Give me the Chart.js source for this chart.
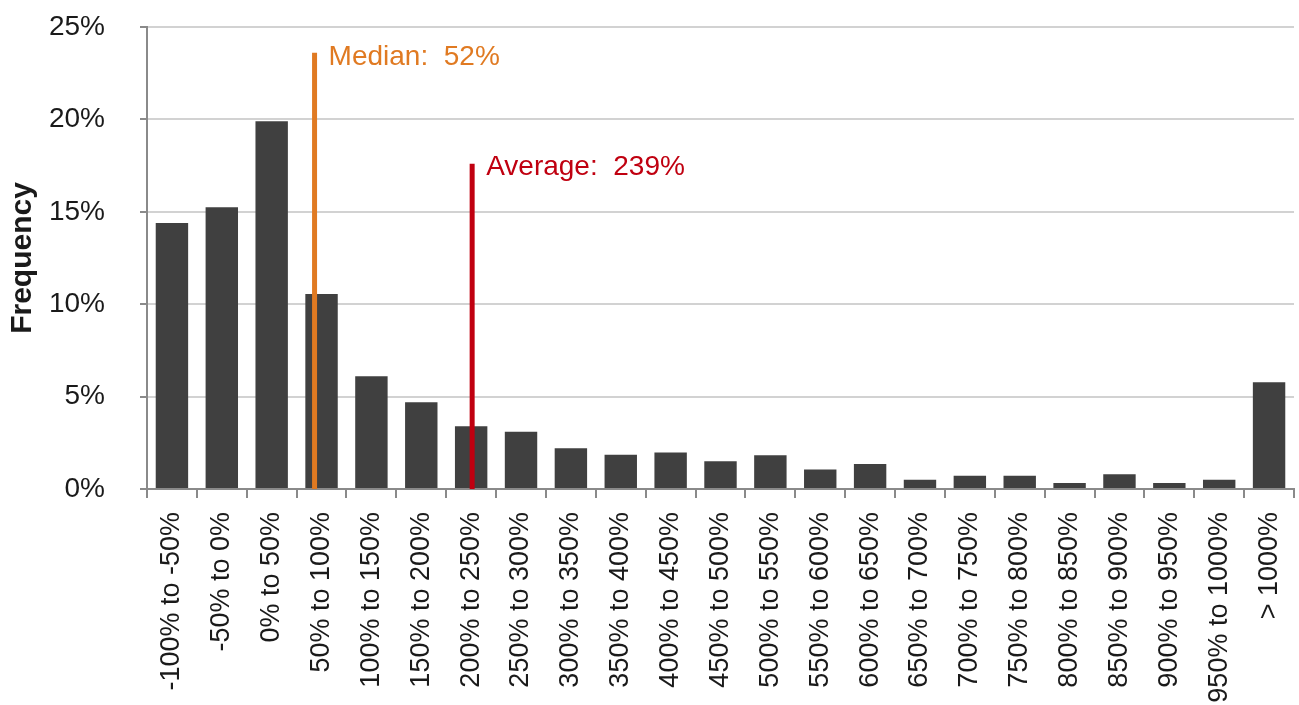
<!DOCTYPE html>
<html>
<head>
<meta charset="utf-8">
<script src="https://cdn.jsdelivr.net/npm/chart.js@4/dist/chart.umd.min.js"></script>
<style>
  html, body { margin: 0; padding: 0; background: #fff; }
  #wrap { width: 1299px; height: 705px; position: relative; }
</style>
</head>
<body>
<div id="wrap"><canvas id="histChart"></canvas></div>
<script>
// bins of return
const bins = ['-100% to -50%', '-50% to 0%', '0% to 50%', '50% to 100%', '100% to 150%',
    '150% to 200%', '200% to 250%', '250% to 300%', '300% to 350%', '350% to 400%',
    '400% to 450%', '450% to 500%', '500% to 550%', '550% to 600%', '600% to 650%',
    '650% to 700%', '700% to 750%', '750% to 800%', '800% to 850%', '850% to 900%',
    '900% to 950%', '950% to 1000%', '> 1000%'];
const frequency = [14.4, 15.25, 19.9, 10.55, 6.1, 4.7, 3.4, 3.1, 2.2, 1.85, 1.97, 1.5,
    1.83, 1.05, 1.35, 0.5, 0.72, 0.72, 0.33, 0.8, 0.33, 0.5, 5.78];
const yTicks = [0, 5, 10, 15, 20, 25];

// marker lines (median / average), position in bin index units
const markerNames = ['Median:  52%', 'Average:  239%'];
const markerAt = [2.86, 6.02];
const markerTop = [23.6, 17.6];
const markerColors = ['#e07a22', '#c00010'];

const FONT = '"Liberation Sans", Arial, sans-serif';

const markerLabels = {
    id: 'markerLabels',
    afterDatasetsDraw(chart) {
        const c = chart.ctx;
        c.save();
        c.font = '28px ' + FONT;
        c.textAlign = 'left';
        c.textBaseline = 'middle';
        markerNames.forEach(function (name, i) {
            const pt = chart.getDatasetMeta(i + 1).data[1];
            c.fillStyle = markerColors[i];
            c.fillText(name, pt.x + 14, pt.y + 4);
        });
        c.restore();
    }
};

const ctx = document.getElementById('histChart').getContext('2d');
new Chart(ctx, {
    type: 'bar',
    data: {
        datasets: [{
            label: 'Frequency',
            data: frequency.map((v, i) => ({ x: i, y: v })),
            backgroundColor: '#404040',
            borderWidth: 0,
            grouped: false,
            categoryPercentage: 1,
            barPercentage: 0.65,
            order: 2
        }].concat(markerNames.map(function (name, i) {
            return {
                type: 'line',
                label: name,
                data: [{ x: markerAt[i], y: 0 }, { x: markerAt[i], y: markerTop[i] }],
                borderColor: markerColors[i],
                borderWidth: 5,
                pointRadius: 0,
                order: 1
            };
        }))
    },
    options: {
        responsive: true,
        maintainAspectRatio: false,
        animation: false,
        layout: { padding: { top: 27, right: 5, left: 0, bottom: 0 } },
        plugins: {
            legend: { display: false },
            tooltip: { enabled: false }
        },
        scales: {
            x: {
                type: 'linear',
                min: -0.5, max: 22.5,
                offset: false,
                afterBuildTicks: function (scale) { scale.ticks = bins.map((b, i) => ({ value: i })); },
                grid: {
                    display: true, drawOnChartArea: false, offset: true, tickLength: 21,
                    tickBorderDash: [8, 14], tickBorderDashOffset: 0,
                    color: '#8a8a8a', lineWidth: 2
                },
                border: { color: '#8a8a8a', width: 2 },
                ticks: {
                    autoSkip: false, minRotation: 90, maxRotation: 90, padding: 2,
                    color: '#1a1a1a', font: { family: FONT, size: 27, lineHeight: 1 },
                    callback: v => bins[v]
                },
                afterFit: function (scale) { scale.height = 705 - 489; }
            },
            y: {
                min: 0, max: 25,
                afterBuildTicks: function (scale) { scale.ticks = yTicks.map(v => ({ value: v })); },
                grid: {
                    color: '#d2d2d2', lineWidth: 2, tickLength: 42, tickColor: '#8a8a8a',
                    tickBorderDash: [7, 35], tickBorderDashOffset: 7
                },
                border: { color: '#8a8a8a', width: 2 },
                ticks: {
                    padding: 0, color: '#1a1a1a', font: { family: FONT, size: 28 },
                    callback: v => v + '%'
                },
                title: {
                    display: true, text: 'Frequency', color: '#1a1a1a',
                    font: { family: FONT, size: 30, weight: 'bold' }, padding: { top: 5, bottom: 0 }
                },
                afterFit: function (scale) { scale.width = 147; }
            }
        }
    },
    plugins: [markerLabels]
});
</script>
</body>
</html>
